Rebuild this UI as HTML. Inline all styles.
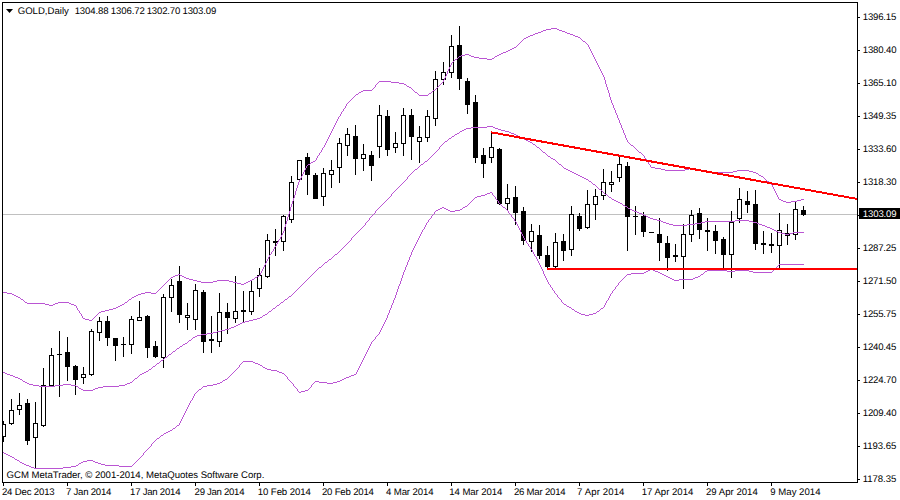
<!DOCTYPE html>
<html><head><meta charset="utf-8"><title>GOLD Daily</title>
<style>
html,body{margin:0;padding:0;background:#fff;}
body{width:900px;height:500px;position:relative;overflow:hidden;font-family:"Liberation Sans",sans-serif;color:#000;}
.t{position:absolute;white-space:nowrap;text-rendering:geometricPrecision;font-size:9.6px;line-height:12px;height:12px;}
</style></head><body>

<svg width="900" height="500" viewBox="0 0 900 500" style="position:absolute;left:0;top:0" shape-rendering="crispEdges">
<rect x="2" y="2" width="856" height="1" fill="#000"/>
<rect x="2" y="2" width="1" height="481" fill="#000"/>
<rect x="2" y="482" width="856" height="1" fill="#000"/>
<rect x="857" y="2" width="1" height="481" fill="#000"/>
<rect x="3" y="214" width="854" height="1" fill="#c0c0c0"/>
<rect x="858" y="17" width="2" height="1" fill="#000"/>
<rect x="858" y="50" width="2" height="1" fill="#000"/>
<rect x="858" y="83" width="2" height="1" fill="#000"/>
<rect x="858" y="116" width="2" height="1" fill="#000"/>
<rect x="858" y="149" width="2" height="1" fill="#000"/>
<rect x="858" y="182" width="2" height="1" fill="#000"/>
<rect x="858" y="215" width="2" height="1" fill="#000"/>
<rect x="858" y="248" width="2" height="1" fill="#000"/>
<rect x="858" y="281" width="2" height="1" fill="#000"/>
<rect x="858" y="314" width="2" height="1" fill="#000"/>
<rect x="858" y="347" width="2" height="1" fill="#000"/>
<rect x="858" y="380" width="2" height="1" fill="#000"/>
<rect x="858" y="413" width="2" height="1" fill="#000"/>
<rect x="858" y="446" width="2" height="1" fill="#000"/>
<rect x="858" y="479" width="2" height="1" fill="#000"/>
<rect x="3" y="483" width="1" height="3" fill="#000"/>
<rect x="67" y="483" width="1" height="3" fill="#000"/>
<rect x="131" y="483" width="1" height="3" fill="#000"/>
<rect x="195" y="483" width="1" height="3" fill="#000"/>
<rect x="259" y="483" width="1" height="3" fill="#000"/>
<rect x="323" y="483" width="1" height="3" fill="#000"/>
<rect x="387" y="483" width="1" height="3" fill="#000"/>
<rect x="451" y="483" width="1" height="3" fill="#000"/>
<rect x="515" y="483" width="1" height="3" fill="#000"/>
<rect x="579" y="483" width="1" height="3" fill="#000"/>
<rect x="643" y="483" width="1" height="3" fill="#000"/>
<rect x="707" y="483" width="1" height="3" fill="#000"/>
<rect x="771" y="483" width="1" height="3" fill="#000"/>
<rect x="3" y="421" width="1" height="21" fill="#000"/>
<rect x="3" y="424" width="3" height="13" fill="#000"/>
<rect x="3" y="425" width="2" height="11" fill="#fff"/>
<rect x="11" y="399" width="1" height="26" fill="#000"/>
<rect x="9" y="410" width="5" height="14" fill="#000"/>
<rect x="10" y="411" width="3" height="12" fill="#fff"/>
<rect x="19" y="393" width="1" height="22" fill="#000"/>
<rect x="17" y="405" width="5" height="5" fill="#000"/>
<rect x="18" y="406" width="3" height="3" fill="#fff"/>
<rect x="27" y="399" width="1" height="46" fill="#000"/>
<rect x="25" y="403" width="5" height="38" fill="#000"/>
<rect x="35" y="402" width="1" height="67" fill="#000"/>
<rect x="33" y="423" width="5" height="15" fill="#000"/>
<rect x="34" y="424" width="3" height="13" fill="#fff"/>
<rect x="43" y="368" width="1" height="59" fill="#000"/>
<rect x="41" y="385" width="5" height="41" fill="#000"/>
<rect x="42" y="386" width="3" height="39" fill="#fff"/>
<rect x="51" y="348" width="1" height="38" fill="#000"/>
<rect x="49" y="355" width="5" height="31" fill="#000"/>
<rect x="50" y="356" width="3" height="29" fill="#fff"/>
<rect x="59" y="331" width="1" height="66" fill="#000"/>
<rect x="57" y="354" width="5" height="1" fill="#000"/>
<rect x="67" y="337" width="1" height="44" fill="#000"/>
<rect x="65" y="352" width="5" height="15" fill="#000"/>
<rect x="75" y="365" width="1" height="30" fill="#000"/>
<rect x="73" y="366" width="5" height="14" fill="#000"/>
<rect x="83" y="367" width="1" height="17" fill="#000"/>
<rect x="81" y="374" width="5" height="4" fill="#000"/>
<rect x="82" y="375" width="3" height="2" fill="#fff"/>
<rect x="91" y="329" width="1" height="47" fill="#000"/>
<rect x="89" y="331" width="5" height="44" fill="#000"/>
<rect x="90" y="332" width="3" height="42" fill="#fff"/>
<rect x="99" y="317" width="1" height="24" fill="#000"/>
<rect x="97" y="321" width="5" height="12" fill="#000"/>
<rect x="98" y="322" width="3" height="10" fill="#fff"/>
<rect x="107" y="316" width="1" height="30" fill="#000"/>
<rect x="105" y="321" width="5" height="17" fill="#000"/>
<rect x="115" y="338" width="1" height="23" fill="#000"/>
<rect x="113" y="338" width="5" height="8" fill="#000"/>
<rect x="123" y="337" width="1" height="20" fill="#000"/>
<rect x="121" y="344" width="5" height="1" fill="#000"/>
<rect x="131" y="316" width="1" height="38" fill="#000"/>
<rect x="129" y="319" width="5" height="26" fill="#000"/>
<rect x="130" y="320" width="3" height="24" fill="#fff"/>
<rect x="139" y="301" width="1" height="20" fill="#000"/>
<rect x="137" y="317" width="5" height="4" fill="#000"/>
<rect x="138" y="318" width="3" height="2" fill="#fff"/>
<rect x="147" y="315" width="1" height="43" fill="#000"/>
<rect x="145" y="316" width="5" height="32" fill="#000"/>
<rect x="155" y="341" width="1" height="17" fill="#000"/>
<rect x="153" y="346" width="5" height="11" fill="#000"/>
<rect x="163" y="294" width="1" height="74" fill="#000"/>
<rect x="161" y="297" width="5" height="61" fill="#000"/>
<rect x="162" y="298" width="3" height="59" fill="#fff"/>
<rect x="171" y="279" width="1" height="33" fill="#000"/>
<rect x="169" y="285" width="5" height="13" fill="#000"/>
<rect x="170" y="286" width="3" height="11" fill="#fff"/>
<rect x="179" y="266" width="1" height="57" fill="#000"/>
<rect x="177" y="281" width="5" height="34" fill="#000"/>
<rect x="187" y="303" width="1" height="27" fill="#000"/>
<rect x="185" y="315" width="5" height="3" fill="#000"/>
<rect x="186" y="316" width="3" height="1" fill="#fff"/>
<rect x="195" y="284" width="1" height="46" fill="#000"/>
<rect x="193" y="290" width="5" height="30" fill="#000"/>
<rect x="194" y="291" width="3" height="28" fill="#fff"/>
<rect x="203" y="290" width="1" height="63" fill="#000"/>
<rect x="201" y="292" width="5" height="50" fill="#000"/>
<rect x="211" y="316" width="1" height="37" fill="#000"/>
<rect x="209" y="339" width="5" height="2" fill="#000"/>
<rect x="219" y="293" width="1" height="54" fill="#000"/>
<rect x="217" y="312" width="5" height="30" fill="#000"/>
<rect x="218" y="313" width="3" height="28" fill="#fff"/>
<rect x="227" y="303" width="1" height="31" fill="#000"/>
<rect x="225" y="312" width="5" height="6" fill="#000"/>
<rect x="235" y="276" width="1" height="47" fill="#000"/>
<rect x="233" y="311" width="5" height="8" fill="#000"/>
<rect x="234" y="312" width="3" height="6" fill="#fff"/>
<rect x="243" y="291" width="1" height="31" fill="#000"/>
<rect x="241" y="310" width="5" height="2" fill="#000"/>
<rect x="251" y="281" width="1" height="34" fill="#000"/>
<rect x="249" y="291" width="5" height="21" fill="#000"/>
<rect x="250" y="292" width="3" height="19" fill="#fff"/>
<rect x="259" y="268" width="1" height="29" fill="#000"/>
<rect x="257" y="275" width="5" height="14" fill="#000"/>
<rect x="258" y="276" width="3" height="12" fill="#fff"/>
<rect x="267" y="234" width="1" height="44" fill="#000"/>
<rect x="265" y="240" width="5" height="37" fill="#000"/>
<rect x="266" y="241" width="3" height="35" fill="#fff"/>
<rect x="275" y="229" width="1" height="27" fill="#000"/>
<rect x="273" y="241" width="5" height="2" fill="#000"/>
<rect x="283" y="215" width="1" height="36" fill="#000"/>
<rect x="281" y="216" width="5" height="26" fill="#000"/>
<rect x="282" y="217" width="3" height="24" fill="#fff"/>
<rect x="291" y="176" width="1" height="47" fill="#000"/>
<rect x="289" y="182" width="5" height="38" fill="#000"/>
<rect x="290" y="183" width="3" height="36" fill="#fff"/>
<rect x="299" y="160" width="1" height="20" fill="#000"/>
<rect x="297" y="160" width="5" height="20" fill="#000"/>
<rect x="298" y="161" width="3" height="18" fill="#fff"/>
<rect x="307" y="153" width="1" height="42" fill="#000"/>
<rect x="305" y="157" width="5" height="18" fill="#000"/>
<rect x="315" y="173" width="1" height="26" fill="#000"/>
<rect x="313" y="175" width="5" height="24" fill="#000"/>
<rect x="323" y="168" width="1" height="38" fill="#000"/>
<rect x="321" y="173" width="5" height="24" fill="#000"/>
<rect x="322" y="174" width="3" height="22" fill="#fff"/>
<rect x="331" y="160" width="1" height="28" fill="#000"/>
<rect x="329" y="170" width="5" height="5" fill="#000"/>
<rect x="330" y="171" width="3" height="3" fill="#fff"/>
<rect x="339" y="138" width="1" height="45" fill="#000"/>
<rect x="337" y="143" width="5" height="25" fill="#000"/>
<rect x="338" y="144" width="3" height="23" fill="#fff"/>
<rect x="347" y="128" width="1" height="28" fill="#000"/>
<rect x="345" y="134" width="5" height="12" fill="#000"/>
<rect x="346" y="135" width="3" height="10" fill="#fff"/>
<rect x="355" y="125" width="1" height="50" fill="#000"/>
<rect x="353" y="136" width="5" height="23" fill="#000"/>
<rect x="363" y="144" width="1" height="27" fill="#000"/>
<rect x="361" y="154" width="5" height="5" fill="#000"/>
<rect x="362" y="155" width="3" height="3" fill="#fff"/>
<rect x="371" y="151" width="1" height="30" fill="#000"/>
<rect x="369" y="155" width="5" height="11" fill="#000"/>
<rect x="379" y="105" width="1" height="53" fill="#000"/>
<rect x="377" y="115" width="5" height="32" fill="#000"/>
<rect x="378" y="116" width="3" height="30" fill="#fff"/>
<rect x="387" y="110" width="1" height="46" fill="#000"/>
<rect x="385" y="116" width="5" height="34" fill="#000"/>
<rect x="395" y="132" width="1" height="21" fill="#000"/>
<rect x="393" y="143" width="5" height="5" fill="#000"/>
<rect x="394" y="144" width="3" height="3" fill="#fff"/>
<rect x="403" y="108" width="1" height="48" fill="#000"/>
<rect x="401" y="115" width="5" height="29" fill="#000"/>
<rect x="402" y="116" width="3" height="27" fill="#fff"/>
<rect x="411" y="109" width="1" height="51" fill="#000"/>
<rect x="409" y="115" width="5" height="22" fill="#000"/>
<rect x="419" y="126" width="1" height="37" fill="#000"/>
<rect x="417" y="137" width="5" height="5" fill="#000"/>
<rect x="418" y="138" width="3" height="3" fill="#fff"/>
<rect x="427" y="110" width="1" height="32" fill="#000"/>
<rect x="425" y="116" width="5" height="22" fill="#000"/>
<rect x="426" y="117" width="3" height="20" fill="#fff"/>
<rect x="435" y="71" width="1" height="55" fill="#000"/>
<rect x="433" y="79" width="5" height="40" fill="#000"/>
<rect x="434" y="80" width="3" height="38" fill="#fff"/>
<rect x="443" y="62" width="1" height="23" fill="#000"/>
<rect x="441" y="72" width="5" height="8" fill="#000"/>
<rect x="442" y="73" width="3" height="6" fill="#fff"/>
<rect x="451" y="35" width="1" height="43" fill="#000"/>
<rect x="449" y="46" width="5" height="27" fill="#000"/>
<rect x="450" y="47" width="3" height="25" fill="#fff"/>
<rect x="459" y="26" width="1" height="64" fill="#000"/>
<rect x="457" y="45" width="5" height="34" fill="#000"/>
<rect x="467" y="78" width="1" height="36" fill="#000"/>
<rect x="465" y="81" width="5" height="24" fill="#000"/>
<rect x="475" y="95" width="1" height="68" fill="#000"/>
<rect x="473" y="102" width="5" height="56" fill="#000"/>
<rect x="483" y="148" width="1" height="30" fill="#000"/>
<rect x="481" y="155" width="5" height="9" fill="#000"/>
<rect x="491" y="132" width="1" height="31" fill="#000"/>
<rect x="489" y="147" width="5" height="11" fill="#000"/>
<rect x="490" y="148" width="3" height="9" fill="#fff"/>
<rect x="499" y="148" width="1" height="57" fill="#000"/>
<rect x="497" y="149" width="5" height="55" fill="#000"/>
<rect x="507" y="184" width="1" height="26" fill="#000"/>
<rect x="505" y="198" width="5" height="6" fill="#000"/>
<rect x="506" y="199" width="3" height="4" fill="#fff"/>
<rect x="515" y="186" width="1" height="39" fill="#000"/>
<rect x="513" y="197" width="5" height="16" fill="#000"/>
<rect x="523" y="207" width="1" height="38" fill="#000"/>
<rect x="521" y="211" width="5" height="30" fill="#000"/>
<rect x="531" y="224" width="1" height="28" fill="#000"/>
<rect x="529" y="231" width="5" height="11" fill="#000"/>
<rect x="530" y="232" width="3" height="9" fill="#fff"/>
<rect x="539" y="225" width="1" height="34" fill="#000"/>
<rect x="537" y="235" width="5" height="21" fill="#000"/>
<rect x="547" y="246" width="1" height="23" fill="#000"/>
<rect x="545" y="255" width="5" height="12" fill="#000"/>
<rect x="555" y="233" width="1" height="35" fill="#000"/>
<rect x="553" y="242" width="5" height="25" fill="#000"/>
<rect x="554" y="243" width="3" height="23" fill="#fff"/>
<rect x="563" y="234" width="1" height="27" fill="#000"/>
<rect x="561" y="241" width="5" height="10" fill="#000"/>
<rect x="571" y="206" width="1" height="50" fill="#000"/>
<rect x="569" y="214" width="5" height="36" fill="#000"/>
<rect x="570" y="215" width="3" height="34" fill="#fff"/>
<rect x="579" y="213" width="1" height="18" fill="#000"/>
<rect x="577" y="216" width="5" height="13" fill="#000"/>
<rect x="587" y="190" width="1" height="39" fill="#000"/>
<rect x="585" y="204" width="5" height="24" fill="#000"/>
<rect x="586" y="205" width="3" height="22" fill="#fff"/>
<rect x="595" y="189" width="1" height="31" fill="#000"/>
<rect x="593" y="196" width="5" height="9" fill="#000"/>
<rect x="594" y="197" width="3" height="7" fill="#fff"/>
<rect x="603" y="169" width="1" height="31" fill="#000"/>
<rect x="601" y="182" width="5" height="14" fill="#000"/>
<rect x="602" y="183" width="3" height="12" fill="#fff"/>
<rect x="611" y="171" width="1" height="21" fill="#000"/>
<rect x="609" y="182" width="5" height="3" fill="#000"/>
<rect x="610" y="183" width="3" height="1" fill="#fff"/>
<rect x="619" y="156" width="1" height="26" fill="#000"/>
<rect x="617" y="164" width="5" height="14" fill="#000"/>
<rect x="618" y="165" width="3" height="12" fill="#fff"/>
<rect x="627" y="162" width="1" height="89" fill="#000"/>
<rect x="625" y="166" width="5" height="51" fill="#000"/>
<rect x="635" y="206" width="1" height="29" fill="#000"/>
<rect x="633" y="216" width="5" height="1" fill="#000"/>
<rect x="643" y="212" width="1" height="25" fill="#000"/>
<rect x="641" y="216" width="5" height="16" fill="#000"/>
<rect x="651" y="232" width="1" height="1" fill="#000"/>
<rect x="649" y="232" width="5" height="1" fill="#000"/>
<rect x="659" y="218" width="1" height="43" fill="#000"/>
<rect x="657" y="234" width="5" height="9" fill="#000"/>
<rect x="667" y="236" width="1" height="35" fill="#000"/>
<rect x="665" y="243" width="5" height="15" fill="#000"/>
<rect x="675" y="244" width="1" height="18" fill="#000"/>
<rect x="673" y="255" width="5" height="2" fill="#000"/>
<rect x="683" y="224" width="1" height="65" fill="#000"/>
<rect x="681" y="234" width="5" height="23" fill="#000"/>
<rect x="682" y="235" width="3" height="21" fill="#fff"/>
<rect x="691" y="210" width="1" height="32" fill="#000"/>
<rect x="689" y="215" width="5" height="20" fill="#000"/>
<rect x="690" y="216" width="3" height="18" fill="#fff"/>
<rect x="699" y="208" width="1" height="31" fill="#000"/>
<rect x="697" y="213" width="5" height="17" fill="#000"/>
<rect x="707" y="218" width="1" height="33" fill="#000"/>
<rect x="705" y="230" width="5" height="2" fill="#000"/>
<rect x="715" y="225" width="1" height="29" fill="#000"/>
<rect x="713" y="231" width="5" height="10" fill="#000"/>
<rect x="723" y="237" width="1" height="31" fill="#000"/>
<rect x="721" y="239" width="5" height="16" fill="#000"/>
<rect x="731" y="211" width="1" height="67" fill="#000"/>
<rect x="729" y="222" width="5" height="33" fill="#000"/>
<rect x="730" y="223" width="3" height="31" fill="#fff"/>
<rect x="739" y="188" width="1" height="35" fill="#000"/>
<rect x="737" y="199" width="5" height="20" fill="#000"/>
<rect x="738" y="200" width="3" height="18" fill="#fff"/>
<rect x="747" y="191" width="1" height="22" fill="#000"/>
<rect x="745" y="201" width="5" height="4" fill="#000"/>
<rect x="755" y="190" width="1" height="60" fill="#000"/>
<rect x="753" y="204" width="5" height="40" fill="#000"/>
<rect x="763" y="231" width="1" height="23" fill="#000"/>
<rect x="761" y="243" width="5" height="2" fill="#000"/>
<rect x="771" y="233" width="1" height="20" fill="#000"/>
<rect x="769" y="244" width="5" height="2" fill="#000"/>
<rect x="779" y="213" width="1" height="55" fill="#000"/>
<rect x="777" y="230" width="5" height="16" fill="#000"/>
<rect x="778" y="231" width="3" height="14" fill="#fff"/>
<rect x="787" y="224" width="1" height="21" fill="#000"/>
<rect x="785" y="233" width="5" height="3" fill="#000"/>
<rect x="795" y="202" width="1" height="38" fill="#000"/>
<rect x="793" y="209" width="5" height="26" fill="#000"/>
<rect x="794" y="210" width="3" height="24" fill="#fff"/>
<rect x="803" y="206" width="1" height="10" fill="#000"/>
<rect x="801" y="210" width="5" height="5" fill="#000"/>
<path d="M703 171h8v1h-8zM733 171h4v1h-4zM749 171h4v1h-4zM459 56h2v1h-2zM471 56h3v1h-3zM495 56h2v1h-2zM85 319h4v1h-4zM25 302h2v1h-2zM58 302h11v1h-11zM125 302h2v1h-2zM21 299h2v1h-2zM129 299h2v1h-2zM363 90h9v1h-9zM433 90h2v1h-2zM655 168h6v1h-6zM689 168h4v1h-4zM665 170h20v1h-20zM697 170h6v1h-6zM737 170h12v1h-12zM201 282h12v1h-12zM233 282h4v1h-4zM246 282h2v1h-2zM175 275h3v1h-3zM180 275h2v1h-2zM419 95h9v1h-9zM14 295h2v1h-2zM136 295h2v1h-2zM479 58h8v1h-8zM492 58h2v1h-2zM7 293h5v1h-5zM141 293h4v1h-4zM151 293h5v1h-5zM16 296h2v1h-2zM134 296h2v1h-2zM105 310h4v1h-4zM27 303h18v1h-18zM55 303h3v1h-3zM69 303h2v1h-2zM711 172h22v1h-22zM753 172h3v1h-3zM530 35h3v1h-3zM573 35h2v1h-2zM661 169h4v1h-4zM685 169h4v1h-4zM693 169h4v1h-4zM506 51h2v1h-2zM465 54h4v1h-4zM499 54h2v1h-2zM12 294h2v1h-2zM138 294h3v1h-3zM404 84h2v1h-2zM45 304h4v1h-4zM53 304h2v1h-2zM71 304h3v1h-3zM122 304h2v1h-2zM193 280h4v1h-4zM217 280h12v1h-12zM250 280h2v1h-2zM551 28h6v1h-6zM101 311h4v1h-4zM535 33h3v1h-3zM567 33h3v1h-3zM379 81h12v1h-12zM781 200h2v1h-2zM797 200h4v1h-4zM546 29h5v1h-5zM557 29h2v1h-2zM407 86h2v1h-2zM3 292h4v1h-4zM145 292h6v1h-6zM455 59h2v1h-2zM487 59h5v1h-5zM783 201h3v1h-3zM791 201h6v1h-6zM356 94h2v1h-2zM541 31h2v1h-2zM562 31h3v1h-3zM583 41h2v1h-2zM399 83h5v1h-5zM173 276h2v1h-2zM182 276h2v1h-2zM257 276h2v1h-2zM361 91h2v1h-2zM197 281h4v1h-4zM213 281h4v1h-4zM229 281h4v1h-4zM248 281h2v1h-2zM461 55h4v1h-4zM469 55h2v1h-2zM497 55h2v1h-2zM113 308h3v1h-3zM526 37h2v1h-2zM578 37h2v1h-2zM543 30h3v1h-3zM559 30h3v1h-3zM759 175h2v1h-2zM639 152h2v1h-2zM474 57h5v1h-5zM359 92h2v1h-2zM415 92h2v1h-2zM189 279h4v1h-4zM252 279h2v1h-2zM49 305h4v1h-4zM74 305h2v1h-2zM120 305h2v1h-2zM171 277h2v1h-2zM184 277h2v1h-2zM255 277h2v1h-2zM237 283h4v1h-4zM244 283h2v1h-2zM391 82h8v1h-8zM528 36h2v1h-2zM575 36h3v1h-3zM651 167h4v1h-4zM786 202h5v1h-5zM503 52h3v1h-3zM779 199h2v1h-2zM801 199h3v1h-3zM533 34h2v1h-2zM570 34h3v1h-3zM761 176h2v1h-2zM308 164h2v1h-2zM313 161h2v1h-2zM118 306h2v1h-2zM538 32h3v1h-3zM565 32h2v1h-2zM109 309h4v1h-4zM756 173h2v1h-2zM241 284h3v1h-3zM186 278h3v1h-3zM429 93h2v1h-2zM99 312h2v1h-2zM178 274h2v1h-2zM18 297h2v1h-2zM132 297h2v1h-2zM524 38h2v1h-2zM83 318h2v1h-2zM409 87h2v1h-2zM767 181h2v1h-2zM89 320h3v1h-3zM311 162h2v1h-2zM631 145h2v1h-2zM501 53h2v1h-2zM512 48h2v1h-2zM508 50h2v1h-2zM116 307h2v1h-2zM514 47h2v1h-2zM510 49h2v1h-2zM269 255h1v2h-1zM350 100h1v1h-1zM602 73h1v2h-1zM290 207h1v4h-1zM315 160h1v1h-1zM307 165h1v1h-1zM294 195h1v3h-1zM262 269h1v2h-1zM615 110h1v3h-1zM623 130h1v3h-1zM298 182h1v3h-1zM127 301h1v1h-1zM303 172h1v2h-1zM776 193h1v2h-1zM97 314h1v1h-1zM78 310h1v1h-1zM335 123h1v2h-1zM619 120h1v3h-1zM519 43h1v1h-1zM769 182h1v1h-1zM777 195h1v2h-1zM282 233h1v2h-1zM82 316h1v2h-1zM450 65h1v2h-1zM286 221h1v3h-1zM285 224h1v3h-1zM626 138h1v2h-1zM629 143h1v1h-1zM601 71h1v2h-1zM326 141h1v2h-1zM609 93h1v4h-1zM598 65h1v2h-1zM347 103h1v1h-1zM630 144h1v1h-1zM278 240h1v2h-1zM641 153h1v1h-1zM162 286h1v1h-1zM765 179h1v1h-1zM131 298h1v1h-1zM449 67h1v2h-1zM612 103h1v2h-1zM438 86h1v1h-1zM766 180h1v1h-1zM605 80h1v4h-1zM81 314h1v2h-1zM322 148h1v2h-1zM453 61h1v1h-1zM773 187h1v2h-1zM302 174h1v2h-1zM457 58h1v1h-1zM341 112h1v2h-1zM625 135h1v3h-1zM608 90h1v3h-1zM354 96h1v1h-1zM169 279h1v1h-1zM289 211h1v3h-1zM337 119h1v2h-1zM611 100h1v3h-1zM268 257h1v2h-1zM281 235h1v2h-1zM77 308h1v2h-1zM352 98h1v1h-1zM284 227h1v4h-1zM80 313h1v1h-1zM594 57h1v2h-1zM166 282h1v1h-1zM306 166h1v2h-1zM297 185h1v3h-1zM330 133h1v2h-1zM261 271h1v2h-1zM157 291h1v1h-1zM418 94h1v1h-1zM618 118h1v2h-1zM772 185h1v2h-1zM277 242h1v2h-1zM24 301h1v1h-1zM92 319h1v1h-1zM597 63h1v2h-1zM644 156h1v2h-1zM273 249h1v2h-1zM636 149h1v1h-1zM76 306h1v2h-1zM325 143h1v2h-1zM414 91h1v1h-1zM340 114h1v2h-1zM775 191h1v2h-1zM349 101h1v1h-1zM448 69h1v2h-1zM288 214h1v3h-1zM440 84h1v1h-1zM267 259h1v2h-1zM321 150h1v2h-1zM336 121h1v2h-1zM600 69h1v2h-1zM161 287h1v1h-1zM372 89h1v1h-1zM413 90h1v1h-1zM521 41h1v1h-1zM296 188h1v3h-1zM596 61h1v2h-1zM260 273h1v2h-1zM263 267h1v2h-1zM20 298h1v1h-1zM452 62h1v1h-1zM301 176h1v2h-1zM771 184h1v1h-1zM774 189h1v2h-1zM295 191h1v4h-1zM331 131h1v2h-1zM283 231h1v2h-1zM375 85h1v2h-1zM624 133h1v2h-1zM168 280h1v1h-1zM287 217h1v4h-1zM599 67h1v2h-1zM607 87h1v3h-1zM324 145h1v2h-1zM431 92h1v1h-1zM447 71h1v3h-1zM613 105h1v3h-1zM435 89h1v1h-1zM79 311h1v2h-1zM593 55h1v2h-1zM621 125h1v3h-1zM343 109h1v2h-1zM606 84h1v3h-1zM271 252h1v2h-1zM274 247h1v2h-1zM156 292h1v1h-1zM94 317h1v1h-1zM516 46h1v1h-1zM610 97h1v3h-1zM443 80h1v2h-1zM617 115h1v3h-1zM292 201h1v3h-1zM642 154h1v1h-1zM339 116h1v1h-1zM595 59h1v2h-1zM643 155h1v1h-1zM646 159h1v2h-1zM159 289h1v1h-1zM266 261h1v2h-1zM291 204h1v3h-1zM592 53h1v2h-1zM585 42h1v1h-1zM374 87h1v1h-1zM523 39h1v1h-1zM616 113h1v2h-1zM358 93h1v1h-1zM270 254h1v1h-1zM351 99h1v1h-1zM124 303h1v1h-1zM442 82h1v1h-1zM346 104h1v2h-1zM637 150h1v1h-1zM377 83h1v1h-1zM254 278h1v1h-1zM128 300h1v1h-1zM638 151h1v1h-1zM163 285h1v1h-1zM446 74h1v2h-1zM98 313h1v1h-1zM318 155h1v1h-1zM334 125h1v2h-1zM580 38h1v1h-1zM451 63h1v2h-1zM265 263h1v2h-1zM645 158h1v1h-1zM454 60h1v1h-1zM648 162h1v2h-1zM622 128h1v2h-1zM293 198h1v3h-1zM591 51h1v2h-1zM758 174h1v1h-1zM170 278h1v1h-1zM310 163h1v1h-1zM338 117h1v2h-1zM329 135h1v2h-1zM458 57h1v1h-1zM342 111h1v1h-1zM158 290h1v1h-1zM345 106h1v2h-1zM518 44h1v1h-1zM93 318h1v1h-1zM590 49h1v2h-1zM445 76h1v2h-1zM317 156h1v2h-1zM604 77h1v3h-1zM353 97h1v1h-1zM333 127h1v2h-1zM587 44h1v1h-1zM437 87h1v1h-1zM96 315h1v1h-1zM305 168h1v2h-1zM411 88h1v1h-1zM165 283h1v1h-1zM633 146h1v1h-1zM373 88h1v1h-1zM586 43h1v1h-1zM406 85h1v1h-1zM264 265h1v2h-1zM280 237h1v2h-1zM300 178h1v2h-1zM647 161h1v1h-1zM276 244h1v2h-1zM441 83h1v1h-1zM348 102h1v1h-1zM582 40h1v1h-1zM328 137h1v2h-1zM522 40h1v1h-1zM376 84h1v1h-1zM428 94h1v1h-1zM589 47h1v2h-1zM320 152h1v1h-1zM494 57h1v1h-1zM160 288h1v1h-1zM520 42h1v1h-1zM628 142h1v1h-1zM603 75h1v2h-1zM650 165h1v2h-1zM272 251h1v1h-1zM444 78h1v2h-1zM316 158h1v2h-1zM614 108h1v2h-1zM332 129h1v2h-1zM778 197h1v2h-1zM764 178h1v1h-1zM620 123h1v2h-1zM432 91h1v1h-1zM304 170h1v2h-1zM436 88h1v1h-1zM627 140h1v2h-1zM417 93h1v1h-1zM23 300h1v1h-1zM344 108h1v1h-1zM95 316h1v1h-1zM581 39h1v1h-1zM763 177h1v1h-1zM517 45h1v1h-1zM649 164h1v1h-1zM327 139h1v2h-1zM319 153h1v2h-1zM355 95h1v1h-1zM439 85h1v1h-1zM588 45h1v2h-1zM299 180h1v2h-1zM279 239h1v1h-1zM323 147h1v1h-1zM259 275h1v1h-1zM164 284h1v1h-1zM378 82h1v1h-1zM275 246h1v1h-1zM412 89h1v1h-1zM634 147h1v1h-1zM635 148h1v1h-1zM167 281h1v1h-1zM770 183h1v1h-1z" fill="#ba55d3"/>
<path d="M33 385h6v1h-6zM55 385h8v1h-8zM71 385h5v1h-5zM119 385h6v1h-6zM673 225h14v1h-14zM762 225h3v1h-3zM646 216h2v1h-2zM576 174h2v1h-2zM39 386h16v1h-16zM76 386h2v1h-2zM103 386h16v1h-16zM245 321h4v1h-4zM471 127h16v1h-16zM493 127h2v1h-2zM568 170h2v1h-2zM3 372h2v1h-2zM144 372h2v1h-2zM240 323h2v1h-2zM767 227h3v1h-3zM648 217h2v1h-2zM197 335h4v1h-4zM778 232h3v1h-3zM793 232h11v1h-11zM81 389h2v1h-2zM93 389h2v1h-2zM661 221h2v1h-2zM705 221h30v1h-30zM749 221h4v1h-4zM217 331h4v1h-4zM781 233h4v1h-4zM789 233h4v1h-4zM657 220h4v1h-4zM735 220h14v1h-14zM83 390h10v1h-10zM421 164h2v1h-2zM559 164h2v1h-2zM29 384h4v1h-4zM63 384h8v1h-8zM125 384h2v1h-2zM462 130h2v1h-2zM501 130h4v1h-4zM666 223h3v1h-3zM695 223h6v1h-6zM757 223h2v1h-2zM526 140h2v1h-2zM98 387h5v1h-5zM509 132h2v1h-2zM620 203h2v1h-2zM612 199h2v1h-2zM335 254h2v1h-2zM653 219h4v1h-4zM460 131h2v1h-2zM505 131h4v1h-4zM263 315h2v1h-2zM616 201h2v1h-2zM609 197h2v1h-2zM7 374h3v1h-3zM140 374h2v1h-2zM236 325h2v1h-2zM663 222h3v1h-3zM701 222h4v1h-4zM753 222h4v1h-4zM27 383h2v1h-2zM127 383h3v1h-3zM213 332h4v1h-4zM260 317h2v1h-2zM449 138h2v1h-2zM522 138h2v1h-2zM520 137h2v1h-2zM524 139h2v1h-2zM516 135h2v1h-2zM455 134h2v1h-2zM514 134h2v1h-2zM572 172h2v1h-2zM225 329h4v1h-4zM669 224h4v1h-4zM687 224h8v1h-8zM759 224h3v1h-3zM452 136h2v1h-2zM518 136h2v1h-2zM530 142h2v1h-2zM415 169h2v1h-2zM566 169h2v1h-2zM785 234h4v1h-4zM329 259h2v1h-2zM253 319h4v1h-4zM457 133h2v1h-2zM511 133h3v1h-3zM584 178h2v1h-2zM593 184h2v1h-2zM231 327h3v1h-3zM183 344h2v1h-2zM630 209h2v1h-2zM589 181h2v1h-2zM201 334h6v1h-6zM221 330h4v1h-4zM10 375h3v1h-3zM605 194h2v1h-2zM146 371h2v1h-2zM242 322h3v1h-3zM25 382h2v1h-2zM130 382h2v1h-2zM79 388h2v1h-2zM95 388h3v1h-3zM625 206h2v1h-2zM634 211h3v1h-3zM18 378h2v1h-2zM135 378h2v1h-2zM207 333h6v1h-6zM582 177h2v1h-2zM533 144h2v1h-2zM770 228h2v1h-2zM265 314h2v1h-2zM234 326h2v1h-2zM466 128h5v1h-5zM495 128h3v1h-3zM13 376h2v1h-2zM281 302h2v1h-2zM269 311h2v1h-2zM185 343h2v1h-2zM487 126h6v1h-6zM177 348h2v1h-2zM644 215h2v1h-2zM165 357h2v1h-2zM273 308h2v1h-2zM5 373h2v1h-2zM142 373h2v1h-2zM189 340h2v1h-2zM623 205h2v1h-2zM425 161h2v1h-2zM169 354h2v1h-2zM537 147h2v1h-2zM774 230h2v1h-2zM586 179h2v1h-2zM578 175h2v1h-2zM551 158h2v1h-2zM639 213h3v1h-3zM570 171h2v1h-2zM464 129h2v1h-2zM498 129h3v1h-3zM445 141h2v1h-2zM528 141h2v1h-2zM249 320h4v1h-4zM20 379h2v1h-2zM285 299h2v1h-2zM574 173h2v1h-2zM257 318h3v1h-3zM637 212h2v1h-2zM289 296h2v1h-2zM277 305h2v1h-2zM193 337h2v1h-2zM15 377h3v1h-3zM548 156h2v1h-2zM765 226h2v1h-2zM173 351h2v1h-2zM618 202h2v1h-2zM776 231h2v1h-2zM650 218h3v1h-3zM580 176h2v1h-2zM599 189h2v1h-2zM614 200h2v1h-2zM772 229h2v1h-2zM149 369h2v1h-2zM153 366h2v1h-2zM325 262h2v1h-2zM195 336h2v1h-2zM543 152h2v1h-2zM319 267h2v1h-2zM157 363h2v1h-2zM23 381h2v1h-2zM632 210h2v1h-2zM628 208h2v1h-2zM229 328h2v1h-2zM238 324h2v1h-2zM642 214h2v1h-2zM553 159h2v1h-2zM564 168h2v1h-2zM161 360h2v1h-2zM180 346h2v1h-2zM272 309h1v1h-1zM360 229h1v1h-1zM542 151h1v1h-1zM22 380h1v1h-1zM596 186h1v1h-1zM313 273h1v1h-1zM436 151h1v1h-1zM167 356h1v1h-1zM376 210h1v1h-1zM262 316h1v1h-1zM597 187h1v1h-1zM311 275h1v1h-1zM536 146h1v1h-1zM351 238h1v2h-1zM608 196h1v1h-1zM372 215h1v1h-1zM392 193h1v1h-1zM393 192h1v1h-1zM152 367h1v1h-1zM550 157h1v1h-1zM347 243h1v1h-1zM556 161h1v1h-1zM368 220h1v1h-1zM370 217h1v1h-1zM371 216h1v1h-1zM389 197h1v1h-1zM391 194h1v2h-1zM557 162h1v1h-1zM156 364h1v1h-1zM346 244h1v1h-1zM366 222h1v1h-1zM367 221h1v1h-1zM301 285h1v1h-1zM369 218h1v2h-1zM387 199h1v1h-1zM139 375h1v1h-1zM160 361h1v1h-1zM344 246h1v1h-1zM345 245h1v1h-1zM365 223h1v2h-1zM299 287h1v1h-1zM271 310h1v1h-1zM307 279h1v1h-1zM447 140h1v1h-1zM607 195h1v1h-1zM459 132h1v1h-1zM276 306h1v1h-1zM555 160h1v1h-1zM375 211h1v2h-1zM275 307h1v1h-1zM535 145h1v1h-1zM280 303h1v1h-1zM383 203h1v1h-1zM401 184h1v1h-1zM340 250h1v1h-1zM323 264h1v1h-1zM358 231h1v1h-1zM324 263h1v1h-1zM359 230h1v1h-1zM622 204h1v1h-1zM295 291h1v1h-1zM171 353h1v1h-1zM279 304h1v1h-1zM381 205h1v1h-1zM434 153h1v1h-1zM400 185h1v1h-1zM399 186h1v1h-1zM176 349h1v1h-1zM78 387h1v1h-1zM591 182h1v1h-1zM356 233h1v1h-1zM357 232h1v1h-1zM293 293h1v1h-1zM188 341h1v1h-1zM309 277h1v1h-1zM432 155h1v1h-1zM175 350h1v1h-1zM433 154h1v1h-1zM398 187h1v1h-1zM268 312h1v1h-1zM155 365h1v1h-1zM187 342h1v1h-1zM308 278h1v1h-1zM561 165h1v1h-1zM431 156h1v1h-1zM133 380h1v1h-1zM179 347h1v1h-1zM134 379h1v1h-1zM420 165h1v1h-1zM164 358h1v1h-1zM592 183h1v1h-1zM603 192h1v1h-1zM306 280h1v1h-1zM191 339h1v1h-1zM314 272h1v1h-1zM132 381h1v1h-1zM451 137h1v1h-1zM419 166h1v1h-1zM545 153h1v1h-1zM424 162h1v1h-1zM413 171h1v1h-1zM414 170h1v1h-1zM342 248h1v1h-1zM343 247h1v1h-1zM297 289h1v1h-1zM384 202h1v1h-1zM546 154h1v1h-1zM423 163h1v1h-1zM439 147h1v2h-1zM411 173h1v1h-1zM611 198h1v1h-1zM412 172h1v1h-1zM532 143h1v1h-1zM627 207h1v1h-1zM341 249h1v1h-1zM296 290h1v1h-1zM382 204h1v1h-1zM454 135h1v1h-1zM390 196h1v1h-1zM444 142h1v1h-1zM410 174h1v1h-1zM339 251h1v1h-1zM328 260h1v1h-1zM294 292h1v1h-1zM334 255h1v1h-1zM283 301h1v1h-1zM318 268h1v1h-1zM284 300h1v1h-1zM547 155h1v1h-1zM601 190h1v1h-1zM406 179h1v1h-1zM407 177h1v2h-1zM540 149h1v1h-1zM327 261h1v1h-1zM364 225h1v1h-1zM332 257h1v1h-1zM333 256h1v1h-1zM316 270h1v1h-1zM317 269h1v1h-1zM287 298h1v1h-1zM322 265h1v1h-1zM602 191h1v1h-1zM288 297h1v1h-1zM379 207h1v1h-1zM331 258h1v1h-1zM192 338h1v1h-1zM315 271h1v1h-1zM355 234h1v1h-1zM138 376h1v1h-1zM377 209h1v1h-1zM378 208h1v1h-1zM396 189h1v1h-1zM397 188h1v1h-1zM159 362h1v1h-1zM404 181h1v1h-1zM267 313h1v1h-1zM562 166h1v1h-1zM353 236h1v1h-1zM373 214h1v1h-1zM137 377h1v1h-1zM374 213h1v1h-1zM182 345h1v1h-1zM168 355h1v1h-1zM394 191h1v1h-1zM429 158h1v1h-1zM395 190h1v1h-1zM430 157h1v1h-1zM402 183h1v1h-1zM604 193h1v1h-1zM418 167h1v1h-1zM163 359h1v1h-1zM148 370h1v1h-1zM349 241h1v1h-1zM350 240h1v1h-1zM352 237h1v1h-1zM304 282h1v1h-1zM305 281h1v1h-1zM427 160h1v1h-1zM312 274h1v1h-1zM172 352h1v1h-1zM428 159h1v1h-1zM435 152h1v1h-1zM417 168h1v1h-1zM598 188h1v1h-1zM563 167h1v1h-1zM348 242h1v1h-1zM302 284h1v1h-1zM303 283h1v1h-1zM310 276h1v1h-1zM151 368h1v1h-1zM539 148h1v1h-1zM448 139h1v1h-1zM380 206h1v1h-1zM588 180h1v1h-1zM388 198h1v1h-1zM408 176h1v1h-1zM443 143h1v1h-1zM409 175h1v1h-1zM337 253h1v1h-1zM338 252h1v1h-1zM321 266h1v1h-1zM541 150h1v1h-1zM595 185h1v1h-1zM363 226h1v1h-1zM292 294h1v1h-1zM300 286h1v1h-1zM386 200h1v1h-1zM441 145h1v1h-1zM442 144h1v1h-1zM558 163h1v1h-1zM405 180h1v1h-1zM354 235h1v1h-1zM361 228h1v1h-1zM291 295h1v1h-1zM362 227h1v1h-1zM298 288h1v1h-1zM385 201h1v1h-1zM437 150h1v1h-1zM403 182h1v1h-1zM438 149h1v1h-1zM440 146h1v1h-1z" fill="#ba55d3"/>
<path d="M346 377h3v1h-3zM487 193h3v1h-3zM271 370h6v1h-6zM282 373h2v1h-2zM631 273h13v1h-13zM660 273h2v1h-2zM29 466h2v1h-2zM71 466h5v1h-5zM119 466h13v1h-13zM220 382h2v1h-2zM319 382h8v1h-8zM333 382h4v1h-4zM267 369h4v1h-4zM672 279h2v1h-2zM679 279h14v1h-14zM569 307h2v1h-2zM627 274h4v1h-4zM662 274h2v1h-2zM701 274h2v1h-2zM34 468h29v1h-29zM4 453h2v1h-2zM779 264h25v1h-25zM315 381h4v1h-4zM337 381h3v1h-3zM646 271h2v1h-2zM655 271h3v1h-3zM705 271h2v1h-2zM727 271h8v1h-8zM749 271h4v1h-4zM351 375h3v1h-3zM442 207h2v1h-2zM463 207h2v1h-2zM503 207h2v1h-2zM83 461h4v1h-4zM93 461h2v1h-2zM225 379h2v1h-2zM342 379h2v1h-2zM648 270h2v1h-2zM653 270h2v1h-2zM707 270h20v1h-20zM735 270h14v1h-14zM477 196h4v1h-4zM161 435h2v1h-2zM666 276h2v1h-2zM698 276h2v1h-2zM207 385h6v1h-6zM644 272h2v1h-2zM658 272h2v1h-2zM753 272h19v1h-19zM166 432h2v1h-2zM438 209h2v1h-2zM446 209h2v1h-2zM460 209h2v1h-2zM650 269h3v1h-3zM243 361h10v1h-10zM305 390h3v1h-3zM279 372h3v1h-3zM575 311h2v1h-2zM597 311h2v1h-2zM17 460h2v1h-2zM87 460h6v1h-6zM31 467h3v1h-3zM63 467h8v1h-8zM26 465h3v1h-3zM76 465h2v1h-2zM105 465h14v1h-14zM265 368h2v1h-2zM22 463h2v1h-2zM79 463h2v1h-2zM98 463h3v1h-3zM15 459h2v1h-2zM20 462h2v1h-2zM81 462h2v1h-2zM95 462h3v1h-3zM344 378h2v1h-2zM24 464h2v1h-2zM101 464h4v1h-4zM277 371h2v1h-2zM674 280h5v1h-5zM465 206h2v1h-2zM203 386h4v1h-4zM301 391h4v1h-4zM579 313h2v1h-2zM593 313h3v1h-3zM440 208h2v1h-2zM444 208h2v1h-2zM581 314h4v1h-4zM589 314h4v1h-4zM475 197h2v1h-2zM260 365h2v1h-2zM436 210h2v1h-2zM448 210h2v1h-2zM455 210h5v1h-5zM223 380h2v1h-2zM340 380h2v1h-2zM349 376h2v1h-2zM585 315h4v1h-4zM164 433h2v1h-2zM668 277h2v1h-2zM695 277h3v1h-3zM10 456h2v1h-2zM601 308h2v1h-2zM481 195h4v1h-4zM12 457h2v1h-2zM168 431h2v1h-2zM255 363h3v1h-3zM670 278h2v1h-2zM693 278h2v1h-2zM567 306h2v1h-2zM8 455h2v1h-2zM354 374h2v1h-2zM450 211h5v1h-5zM213 384h4v1h-4zM299 392h2v1h-2zM253 362h2v1h-2zM217 383h3v1h-3zM327 383h6v1h-6zM490 192h2v1h-2zM664 275h2v1h-2zM199 389h2v1h-2zM485 194h2v1h-2zM564 304h2v1h-2zM170 430h2v1h-2zM263 367h2v1h-2zM577 312h2v1h-2zM572 309h2v1h-2zM173 428h2v1h-2zM177 425h2v1h-2zM6 454h2v1h-2zM258 364h2v1h-2zM157 438h2v1h-2zM492 193h1v2h-1zM146 450h1v1h-1zM611 293h1v1h-1zM430 218h1v1h-1zM232 373h1v1h-1zM403 272h1v3h-1zM358 368h1v2h-1zM603 307h1v1h-1zM143 453h1v2h-1zM561 300h1v2h-1zM543 271h1v3h-1zM285 375h1v1h-1zM382 326h1v2h-1zM618 283h1v2h-1zM406 265h1v2h-1zM182 417h1v2h-1zM468 204h1v1h-1zM539 263h1v2h-1zM398 286h1v3h-1zM607 300h1v1h-1zM528 244h1v2h-1zM536 257h1v2h-1zM402 275h1v3h-1zM411 252h1v3h-1zM369 346h1v2h-1zM521 232h1v2h-1zM529 246h1v1h-1zM186 409h1v2h-1zM532 250h1v2h-1zM381 328h1v2h-1zM522 234h1v2h-1zM774 269h1v1h-1zM495 197h1v2h-1zM362 360h1v2h-1zM297 389h1v2h-1zM386 318h1v2h-1zM496 199h1v1h-1zM414 246h1v2h-1zM389 310h1v3h-1zM239 365h1v2h-1zM542 269h1v2h-1zM418 238h1v2h-1zM385 320h1v2h-1zM394 298h1v2h-1zM524 238h1v2h-1zM138 459h1v1h-1zM227 378h1v1h-1zM181 419h1v2h-1zM622 279h1v1h-1zM401 278h1v3h-1zM520 230h1v2h-1zM426 223h1v2h-1zM311 385h1v2h-1zM314 382h1v1h-1zM510 214h1v1h-1zM357 370h1v2h-1zM295 387h1v1h-1zM405 267h1v3h-1zM197 391h1v1h-1zM550 285h1v2h-1zM494 196h1v1h-1zM614 289h1v1h-1zM296 388h1v1h-1zM397 289h1v3h-1zM422 230h1v2h-1zM150 446h1v1h-1zM153 442h1v1h-1zM410 255h1v2h-1zM538 261h1v2h-1zM413 248h1v2h-1zM185 411h1v2h-1zM377 335h1v1h-1zM472 200h1v1h-1zM288 379h1v1h-1zM523 236h1v2h-1zM535 256h1v1h-1zM388 313h1v2h-1zM617 285h1v1h-1zM517 224h1v2h-1zM546 278h1v2h-1zM498 201h1v2h-1zM176 426h1v1h-1zM368 348h1v2h-1zM549 284h1v1h-1zM133 464h1v1h-1zM778 265h1v1h-1zM393 300h1v3h-1zM513 218h1v1h-1zM560 299h1v1h-1zM417 240h1v2h-1zM571 308h1v1h-1zM396 292h1v3h-1zM534 254h1v2h-1zM537 259h1v2h-1zM361 362h1v2h-1zM400 281h1v3h-1zM530 247h1v2h-1zM404 270h1v2h-1zM359 366h1v2h-1zM548 282h1v2h-1zM531 249h1v1h-1zM234 371h1v1h-1zM191 400h1v1h-1zM512 217h1v1h-1zM145 451h1v1h-1zM372 341h1v1h-1zM429 219h1v1h-1zM231 374h1v1h-1zM409 257h1v3h-1zM421 232h1v2h-1zM552 288h1v2h-1zM298 391h1v1h-1zM516 222h1v2h-1zM545 276h1v2h-1zM412 250h1v2h-1zM140 457h1v1h-1zM467 205h1v1h-1zM187 407h1v2h-1zM425 225h1v2h-1zM380 330h1v2h-1zM356 372h1v2h-1zM563 303h1v1h-1zM180 421h1v2h-1zM137 460h1v1h-1zM776 267h1v1h-1zM287 377h1v2h-1zM526 241h1v2h-1zM432 215h1v1h-1zM367 350h1v2h-1zM511 215h1v2h-1zM416 242h1v2h-1zM519 228h1v2h-1zM395 295h1v3h-1zM624 277h1v1h-1zM562 302h1v1h-1zM384 322h1v2h-1zM544 274h1v2h-1zM474 198h1v1h-1zM497 200h1v1h-1zM363 358h1v2h-1zM229 376h1v1h-1zM387 315h1v3h-1zM371 342h1v2h-1zM428 220h1v2h-1zM222 381h1v1h-1zM392 303h1v2h-1zM135 462h1v1h-1zM533 252h1v2h-1zM773 270h1v1h-1zM616 286h1v1h-1zM518 226h1v2h-1zM194 394h1v2h-1zM547 280h1v2h-1zM515 221h1v1h-1zM238 367h1v1h-1zM399 284h1v2h-1zM241 363h1v1h-1zM175 427h1v1h-1zM424 227h1v2h-1zM132 465h1v1h-1zM152 443h1v1h-1zM379 332h1v2h-1zM551 287h1v1h-1zM391 305h1v3h-1zM190 401h1v2h-1zM236 369h1v1h-1zM147 449h1v1h-1zM374 339h1v1h-1zM596 312h1v1h-1zM431 216h1v2h-1zM408 260h1v2h-1zM420 234h1v2h-1zM289 380h1v1h-1zM619 282h1v1h-1zM290 381h1v1h-1zM313 383h1v1h-1zM469 203h1v1h-1zM155 440h1v1h-1zM514 219h1v2h-1zM407 262h1v3h-1zM159 437h1v1h-1zM308 389h1v1h-1zM554 291h1v2h-1zM139 458h1v1h-1zM700 275h1v1h-1zM163 434h1v1h-1zM555 293h1v1h-1zM499 203h1v1h-1zM500 204h1v1h-1zM366 352h1v2h-1zM600 309h1v1h-1zM415 244h1v2h-1zM615 287h1v2h-1zM233 372h1v1h-1zM610 294h1v2h-1zM142 455h1v1h-1zM390 308h1v2h-1zM201 388h1v1h-1zM293 384h1v2h-1zM189 403h1v2h-1zM623 278h1v1h-1zM370 344h1v2h-1zM606 301h1v2h-1zM473 199h1v1h-1zM775 268h1v1h-1zM434 212h1v2h-1zM193 396h1v2h-1zM262 366h1v1h-1zM626 275h1v1h-1zM506 209h1v1h-1zM553 290h1v1h-1zM365 354h1v2h-1zM228 377h1v1h-1zM557 295h1v2h-1zM310 387h1v1h-1zM134 463h1v1h-1zM154 441h1v1h-1zM613 290h1v1h-1zM240 364h1v1h-1zM360 364h1v2h-1zM149 447h1v1h-1zM184 413h1v2h-1zM235 370h1v1h-1zM373 340h1v1h-1zM609 296h1v2h-1zM621 280h1v1h-1zM471 201h1v1h-1zM502 206h1v1h-1zM505 208h1v1h-1zM605 303h1v2h-1zM196 392h1v1h-1zM364 356h1v2h-1zM291 382h1v1h-1zM292 383h1v1h-1zM179 423h1v2h-1zM192 398h1v2h-1zM556 294h1v1h-1zM376 336h1v1h-1zM433 214h1v1h-1zM172 429h1v1h-1zM141 456h1v1h-1zM284 374h1v1h-1zM144 452h1v1h-1zM188 405h1v2h-1zM383 324h1v2h-1zM625 276h1v1h-1zM608 298h1v2h-1zM777 266h1v1h-1zM704 272h1v1h-1zM509 213h1v1h-1zM501 205h1v1h-1zM612 291h1v2h-1zM156 439h1v1h-1zM19 461h1v1h-1zM541 267h1v2h-1zM604 305h1v2h-1zM160 436h1v1h-1zM183 415h1v2h-1zM574 310h1v1h-1zM14 458h1v1h-1zM151 444h1v2h-1zM230 375h1v1h-1zM508 211h1v2h-1zM527 243h1v1h-1zM294 386h1v1h-1zM462 208h1v1h-1zM419 236h1v2h-1zM136 461h1v1h-1zM620 281h1v1h-1zM558 297h1v1h-1zM198 390h1v1h-1zM559 298h1v1h-1zM242 362h1v1h-1zM540 265h1v2h-1zM772 271h1v1h-1zM237 368h1v1h-1zM423 229h1v1h-1zM507 210h1v1h-1zM148 448h1v1h-1zM375 337h1v2h-1zM378 334h1v1h-1zM566 305h1v1h-1zM493 195h1v1h-1zM427 222h1v1h-1zM470 202h1v1h-1zM202 387h1v1h-1zM309 388h1v1h-1zM312 384h1v1h-1zM3 452h1v1h-1zM78 464h1v1h-1zM195 393h1v1h-1zM286 376h1v1h-1zM525 240h1v1h-1zM703 273h1v1h-1zM435 211h1v1h-1zM599 310h1v1h-1z" fill="#ba55d3"/>
<rect x="547" y="268" width="310" height="2" fill="#ff0000"/>
<line x1="491" y1="132.3" x2="857" y2="198.9" stroke="#ff0000" stroke-width="2"/>
<rect x="857" y="2" width="1" height="481" fill="#000"/>
<rect x="859" y="208" width="41" height="11" fill="#000"/>
<rect x="858" y="215" width="1" height="1" fill="#000"/>
<polygon points="6,9 13,9 9.5,13" fill="#000" shape-rendering="auto"/>
</svg>
<div class="t" id="hdr" style="left:17.71px;top:6.0px;letter-spacing:-0.007px;">GOLD,Daily</div>
<div class="t" id="h1" style="left:74.64px;top:6.0px;letter-spacing:-0.120px;">1304.88</div>
<div class="t" id="h2" style="left:110.82px;top:6.0px;letter-spacing:-0.104px;">1306.72</div>
<div class="t" id="h3" style="left:146.64px;top:6.0px;letter-spacing:-0.165px;">1302.70</div>
<div class="t" id="h4" style="left:182.46px;top:6.0px;letter-spacing:-0.130px;">1303.09</div>
<div class="t" id="cpy" style="left:6.58px;top:470.0px;letter-spacing:-0.022px;">GCM MetaTrader, © 2001-2014, MetaQuotes Software Corp.</div>
<div class="t" id="y0" style="left:862.75px;top:12.0px;letter-spacing:-0.201px;">1396.15</div>
<div class="t" id="y1" style="left:862.75px;top:45.0px;letter-spacing:-0.155px;">1380.40</div>
<div class="t" id="y2" style="left:862.75px;top:78.0px;letter-spacing:-0.155px;">1365.10</div>
<div class="t" id="y3" style="left:862.75px;top:111.0px;letter-spacing:-0.201px;">1349.35</div>
<div class="t" id="y4" style="left:862.75px;top:144.0px;letter-spacing:-0.155px;">1333.60</div>
<div class="t" id="y5" style="left:862.75px;top:177.0px;letter-spacing:-0.155px;">1318.30</div>
<div class="t" id="y7" style="left:862.75px;top:243.0px;letter-spacing:-0.201px;">1287.25</div>
<div class="t" id="y8" style="left:862.75px;top:276.0px;letter-spacing:-0.155px;">1271.50</div>
<div class="t" id="y9" style="left:862.75px;top:309.0px;letter-spacing:-0.201px;">1255.75</div>
<div class="t" id="y10" style="left:862.75px;top:342.0px;letter-spacing:-0.201px;">1240.45</div>
<div class="t" id="y11" style="left:862.75px;top:375.0px;letter-spacing:-0.155px;">1224.70</div>
<div class="t" id="y12" style="left:862.75px;top:408.0px;letter-spacing:-0.155px;">1209.40</div>
<div class="t" id="y13" style="left:862.75px;top:441.0px;letter-spacing:-0.076px;">1193.65</div>
<div class="t" id="y14" style="left:862.75px;top:474.0px;letter-spacing:-0.076px;">1178.35</div>
<div class="t" id="prc" style="left:862.85px;top:209.0px;letter-spacing:-0.154px;color:#fff;">1303.09</div>
<div class="t" id="d0" style="left:1.89px;top:487.0px;letter-spacing:-0.158px;">24 Dec 2013</div>
<div class="t" id="d1" style="left:65.89px;top:487.0px;letter-spacing:-0.212px;">7 Jan 2014</div>
<div class="t" id="d2" style="left:130.12px;top:487.0px;letter-spacing:-0.244px;">17 Jan 2014</div>
<div class="t" id="d3" style="left:194.60px;top:487.0px;letter-spacing:-0.292px;">29 Jan 2014</div>
<div class="t" id="d4" style="left:257.82px;top:487.0px;letter-spacing:-0.096px;">10 Feb 2014</div>
<div class="t" id="d5" style="left:321.89px;top:487.0px;letter-spacing:-0.183px;">20 Feb 2014</div>
<div class="t" id="d6" style="left:385.97px;top:487.0px;letter-spacing:-0.109px;">4 Mar 2014</div>
<div class="t" id="d7" style="left:449.35px;top:487.0px;letter-spacing:-0.077px;">14 Mar 2014</div>
<div class="t" id="d8" style="left:513.90px;top:487.0px;letter-spacing:-0.211px;">26 Mar 2014</div>
<div class="t" id="d9" style="left:577.00px;top:487.0px;letter-spacing:0.115px;">7 Apr 2014</div>
<div class="t" id="d10" style="left:641.71px;top:487.0px;letter-spacing:-0.014px;">17 Apr 2014</div>
<div class="t" id="d11" style="left:706.04px;top:487.0px;letter-spacing:-0.001px;">29 Apr 2014</div>
<div class="t" id="d12" style="left:770.32px;top:487.0px;letter-spacing:0.002px;">9 May 2014</div>
</body></html>
